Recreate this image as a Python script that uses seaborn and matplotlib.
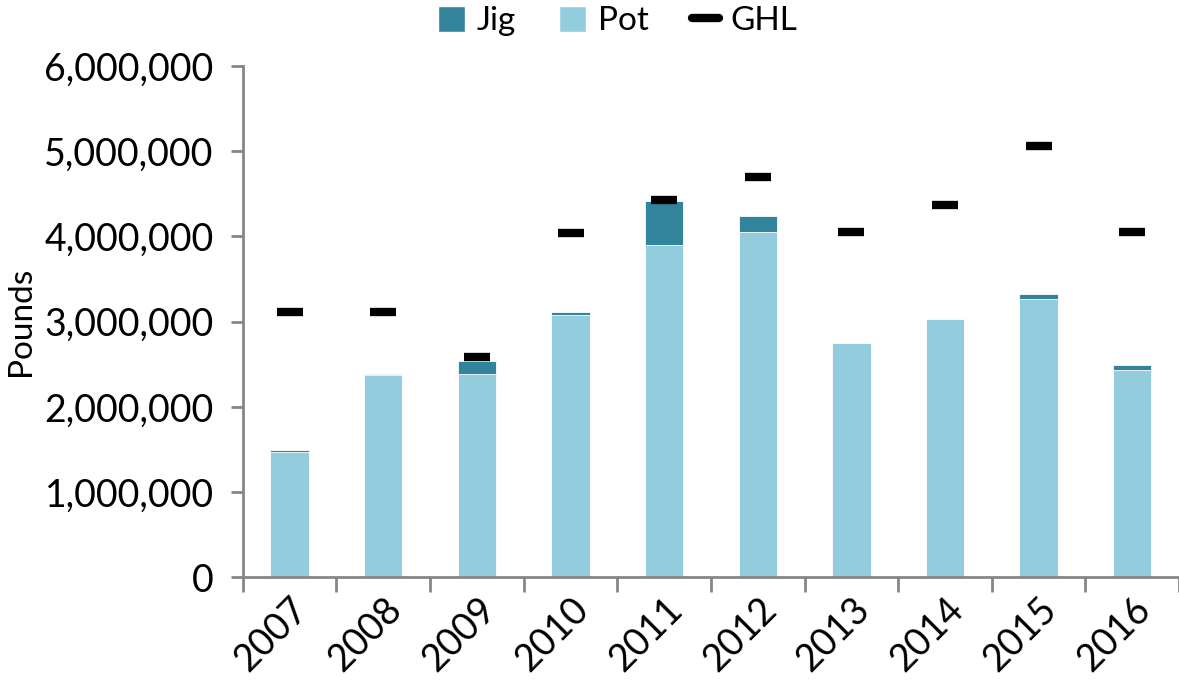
import numpy as np
import pandas as pd
import matplotlib
matplotlib.use("Agg")
import matplotlib.pyplot as plt
import matplotlib.ticker as mticker
from matplotlib.lines import Line2D
from matplotlib.patches import Patch
import seaborn as sns

# -------------------------
# Data
# -------------------------
years = ["2007", "2008", "2009", "2010", "2011", "2012", "2013", "2014", "2015", "2016"]
pot = [1475000, 2370000, 2390000, 3075000, 3900000, 4050000, 2750000, 3025000, 3260000, 2430000]
jig = [20000, 17000, 150000, 35000, 510000, 190000, 0, 0, 66000, 63000]
ghl = [3110000, 3110000, 2580000, 4040000, 4430000, 4690000, 4050000, 4370000, 5055000, 4050000]

jig_color = "#31849B"
pot_color = "#93CDDD"
axis_grey = "#868686"

df = pd.DataFrame({"year": years, "pot": pot, "jig": jig, "ghl": ghl})
df["total"] = df["pot"] + df["jig"]

# -------------------------
# Plot
# -------------------------
sns.set_style("white")
plt.rcParams["font.family"] = ["Lato", "DejaVu Sans"]
plt.rcParams["text.color"] = "black"
plt.rcParams["axes.labelcolor"] = "black"
plt.rcParams["xtick.color"] = "black"
plt.rcParams["ytick.color"] = "black"

fig = plt.figure(figsize=(11.79, 6.85), dpi=100)
ax = fig.add_axes([0.206, 0.157, 0.794, 0.747])

# stacked bars: total in jig colour, pot drawn over it
sns.barplot(data=df, x="year", y="total", color=jig_color, width=0.41,
            saturation=1, edgecolor="white", linewidth=0.6, ax=ax)
sns.barplot(data=df, x="year", y="pot", color=pot_color, width=0.41,
            saturation=1, edgecolor="white", linewidth=0.6, ax=ax)

# GHL dashes
sns.scatterplot(data=df, x="year", y="ghl", marker="_", s=330, linewidth=6,
                color="black", ax=ax, zorder=5)

ax.set_ylim(0, 6000000)
ax.set_xlim(-0.5, 9.42)
ax.yaxis.set_major_locator(mticker.MultipleLocator(1000000))
ax.yaxis.set_major_formatter(mticker.FuncFormatter(lambda v, p: f"{int(v):,}"))

ax.set_xlabel("")
ax.set_ylabel("Pounds", fontsize=24, labelpad=6)

# x ticks sit between categories
ax.set_xticks(np.arange(len(years)))
ax.set_xticklabels(years, rotation=45, ha="right", rotation_mode="anchor")
ax.set_xticks(np.arange(len(years) + 1) - 0.5, minor=True)
ax.tick_params(axis="x", which="major", bottom=True, length=0, labelsize=27, pad=10,
               labelcolor="black")
ax.tick_params(axis="x", which="minor", bottom=True, length=11, width=2,
               color=axis_grey, direction="out")
ax.tick_params(axis="y", which="major", left=True, length=9, width=2, color=axis_grey,
               direction="out", labelsize=27, pad=12, labelcolor="black")

for side in ["top", "right"]:
    ax.spines[side].set_visible(False)
for side in ["left", "bottom"]:
    ax.spines[side].set_color(axis_grey)
    ax.spines[side].set_linewidth(2)

handles = [
    Patch(facecolor=jig_color, label="Jig"),
    Patch(facecolor=pot_color, label="Pot"),
    Line2D([0], [0], color="black", linewidth=6, label="GHL"),
]
fig.legend(handles=handles, loc="upper center", bbox_to_anchor=(0.524, 1.035), ncol=3,
           frameon=False, fontsize=24, handlelength=0.8, handleheight=0.8,
           handletextpad=0.35, columnspacing=1.3, labelcolor="black")

fig.savefig("out.png", dpi=100)
